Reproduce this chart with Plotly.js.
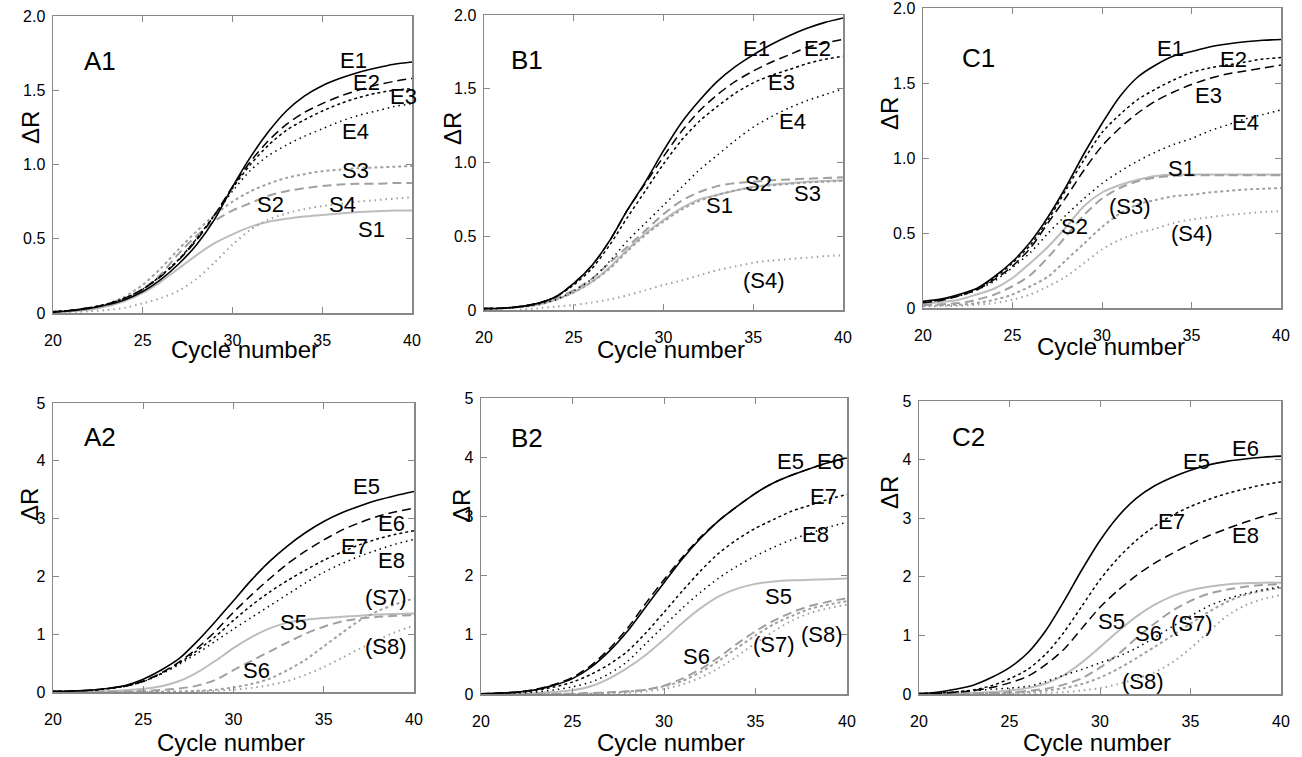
<!DOCTYPE html>
<html><head><meta charset="utf-8">
<script src="https://cdn.plot.ly/plotly-3.0.1.min.js"></script>
<style>html,body{margin:0;padding:0;background:#fff;}#chart{width:1302px;height:757px;}</style>
</head><body><div id="chart"></div>
<script>
// ---------- DATA ----------
const cycles = [20,21,22,23,24,25,26,27,28,29,30,31,32,33,34,35,36,37,38,39,40];
const xTickVals = [20,25,30,35,40];
const xTickText = ["20","25","30","35","40"];
const yTickVals1 = [0,0.5,1,1.5,2];
const yTickText1 = ["0","0.5","1.0","1.5","2.0"];
const yTickVals2 = [0,1,2,3,4,5];
const yTickText2 = ["0","1","2","3","4","5"];
const panelNames = ["A1","B1","C1","A2","B2","C2"];
const xTitle = "Cycle number";
const yTitle = "ΔR";

// Panel A1
const A1_E1 = [0.005,0.015,0.03,0.055,0.09,0.145,0.225,0.33,0.46,0.63,0.85,1.05,1.22,1.36,1.46,1.53,1.58,1.62,1.65,1.675,1.69];
const A1_E2 = [0.008,0.018,0.035,0.06,0.10,0.16,0.245,0.355,0.49,0.66,0.85,1.02,1.16,1.27,1.35,1.41,1.46,1.50,1.535,1.56,1.58];
const A1_E3 = [0.008,0.018,0.035,0.06,0.10,0.16,0.25,0.36,0.50,0.66,0.84,1.00,1.13,1.23,1.30,1.36,1.41,1.45,1.48,1.50,1.51];
const A1_E4 = [0.008,0.018,0.035,0.06,0.10,0.16,0.25,0.36,0.50,0.66,0.82,0.96,1.06,1.13,1.19,1.24,1.29,1.33,1.36,1.39,1.41];
const A1_S1 = [0.005,0.012,0.022,0.045,0.08,0.135,0.21,0.30,0.39,0.47,0.53,0.58,0.615,0.635,0.65,0.66,0.67,0.68,0.685,0.69,0.69];
const A1_S2 = [0.008,0.015,0.028,0.05,0.09,0.16,0.26,0.40,0.52,0.62,0.69,0.74,0.79,0.82,0.84,0.855,0.865,0.87,0.87,0.875,0.875];
const A1_S3 = [0.008,0.015,0.03,0.06,0.11,0.19,0.30,0.43,0.55,0.66,0.75,0.82,0.87,0.91,0.935,0.955,0.965,0.975,0.98,0.985,0.99];
const A1_S4 = [0.003,0.006,0.012,0.02,0.035,0.065,0.10,0.15,0.23,0.34,0.46,0.56,0.63,0.67,0.70,0.72,0.735,0.75,0.76,0.77,0.78];
// Panel B1
const B1_E1 = [0.01,0.012,0.023,0.045,0.09,0.18,0.30,0.47,0.68,0.87,1.08,1.27,1.42,1.55,1.65,1.73,1.80,1.86,1.91,1.95,1.98];
const B1_E2 = [0.01,0.012,0.023,0.045,0.09,0.18,0.30,0.47,0.68,0.86,1.04,1.21,1.35,1.46,1.55,1.62,1.68,1.73,1.78,1.81,1.835];
const B1_E3 = [0.01,0.012,0.023,0.045,0.09,0.17,0.28,0.44,0.63,0.81,0.99,1.15,1.28,1.38,1.47,1.54,1.59,1.63,1.67,1.70,1.72];
const B1_E4 = [0.005,0.01,0.02,0.04,0.07,0.13,0.21,0.33,0.47,0.59,0.71,0.83,0.95,1.05,1.15,1.24,1.31,1.37,1.42,1.46,1.50];
const B1_S1 = [0.008,0.012,0.02,0.035,0.07,0.12,0.19,0.29,0.41,0.52,0.61,0.69,0.75,0.78,0.81,0.835,0.85,0.86,0.87,0.875,0.88];
const B1_S2 = [0.008,0.012,0.023,0.04,0.08,0.135,0.21,0.32,0.43,0.54,0.65,0.74,0.80,0.84,0.86,0.87,0.88,0.885,0.89,0.895,0.90];
const B1_S3 = [0.008,0.012,0.02,0.035,0.07,0.12,0.19,0.28,0.40,0.51,0.60,0.68,0.74,0.78,0.81,0.83,0.845,0.855,0.865,0.87,0.875];
const B1_S4 = [null,null,0.002,0.011,0.023,0.034,0.05,0.072,0.10,0.135,0.17,0.20,0.235,0.27,0.295,0.32,0.335,0.345,0.355,0.365,0.37];
// Panel C1
const C1_E1 = [0.045,0.06,0.09,0.13,0.21,0.31,0.44,0.61,0.81,1.03,1.23,1.41,1.54,1.62,1.68,1.71,1.74,1.76,1.775,1.785,1.79];
const C1_E2 = [0.04,0.055,0.085,0.125,0.20,0.30,0.42,0.59,0.79,0.99,1.17,1.29,1.39,1.46,1.52,1.57,1.60,1.62,1.64,1.66,1.67];
const C1_E3 = [0.035,0.05,0.08,0.12,0.19,0.28,0.40,0.57,0.74,0.92,1.08,1.20,1.30,1.38,1.44,1.49,1.53,1.56,1.58,1.60,1.62];
const C1_E4 = [0.04,0.055,0.08,0.12,0.18,0.27,0.37,0.50,0.62,0.73,0.83,0.91,0.98,1.04,1.09,1.13,1.18,1.22,1.26,1.29,1.32];
const C1_S1 = [0.03,0.04,0.055,0.09,0.13,0.20,0.30,0.41,0.54,0.68,0.77,0.82,0.855,0.88,0.89,0.89,0.89,0.89,0.89,0.89,0.89];
const C1_S2 = [0.02,0.025,0.033,0.055,0.09,0.145,0.22,0.34,0.48,0.62,0.73,0.80,0.845,0.87,0.88,0.885,0.885,0.885,0.885,0.885,0.885];
const C1_S3 = [0.015,0.018,0.022,0.033,0.055,0.09,0.145,0.21,0.32,0.43,0.54,0.63,0.69,0.72,0.745,0.755,0.77,0.78,0.79,0.795,0.80];
const C1_S4 = [0.011,0.013,0.015,0.022,0.033,0.055,0.09,0.145,0.21,0.30,0.39,0.455,0.50,0.53,0.567,0.59,0.605,0.62,0.63,0.64,0.645];
// Panel A2
const A2_E5 = [0.01,0.017,0.03,0.06,0.11,0.22,0.38,0.58,0.88,1.22,1.58,1.94,2.26,2.53,2.76,2.95,3.10,3.22,3.32,3.40,3.47];
const A2_E6 = [0.01,0.017,0.03,0.06,0.10,0.19,0.33,0.52,0.76,1.05,1.38,1.68,1.96,2.22,2.44,2.63,2.80,2.93,3.04,3.12,3.18];
const A2_E7 = [0.01,0.017,0.03,0.055,0.10,0.18,0.32,0.50,0.72,0.96,1.24,1.50,1.73,1.93,2.11,2.28,2.42,2.55,2.65,2.73,2.79];
const A2_E8 = [0.01,0.017,0.03,0.055,0.10,0.18,0.31,0.48,0.67,0.88,1.09,1.29,1.49,1.69,1.89,2.07,2.22,2.35,2.46,2.56,2.64];
const A2_S5 = [0,0.004,0.008,0.015,0.03,0.055,0.10,0.19,0.34,0.54,0.76,0.95,1.10,1.20,1.25,1.28,1.30,1.32,1.34,1.35,1.36];
const A2_S6 = [0,0.002,0.004,0.007,0.012,0.02,0.035,0.06,0.11,0.21,0.38,0.54,0.70,0.86,1.01,1.13,1.22,1.27,1.30,1.32,1.33];
const A2_S7 = [0,0,0,0,0,0.003,0.005,0.01,0.02,0.04,0.08,0.14,0.23,0.38,0.56,0.79,1.02,1.24,1.40,1.52,1.62];
const A2_S8 = [0,0,0,0,0,0,0.003,0.006,0.01,0.02,0.04,0.07,0.12,0.19,0.30,0.43,0.59,0.75,0.90,1.04,1.15];
// Panel B2
const B2_E5 = [0.004,0.017,0.034,0.073,0.15,0.26,0.45,0.72,1.06,1.47,1.88,2.28,2.63,2.93,3.17,3.39,3.57,3.70,3.81,3.91,3.99];
const B2_E6 = [0.004,0.017,0.034,0.08,0.16,0.28,0.48,0.76,1.11,1.53,1.93,2.31,2.65,2.93,3.17,3.39,3.57,3.70,3.81,3.91,3.99];
const B2_E7 = [0.003,0.011,0.03,0.062,0.12,0.20,0.33,0.50,0.72,1.03,1.38,1.74,2.08,2.38,2.61,2.80,2.95,3.09,3.19,3.29,3.37];
const B2_E8 = [0.003,0.008,0.017,0.034,0.07,0.12,0.20,0.34,0.55,0.85,1.15,1.45,1.72,1.96,2.16,2.33,2.48,2.61,2.72,2.82,2.90];
const B2_S5 = [0.002,0.006,0.01,0.017,0.034,0.062,0.13,0.26,0.44,0.66,0.92,1.20,1.45,1.65,1.78,1.86,1.90,1.92,1.93,1.94,1.95];
const B2_S6 = [0,0,0,0,0,0.006,0.017,0.028,0.045,0.073,0.14,0.26,0.42,0.62,0.85,1.06,1.24,1.38,1.49,1.56,1.62];
const B2_S7 = [0,0,0,0,0,0,0.006,0.022,0.04,0.073,0.13,0.22,0.37,0.56,0.78,0.99,1.18,1.32,1.44,1.51,1.57];
const B2_S8 = [0,0,0,0,0,0,0,0.006,0.017,0.045,0.085,0.16,0.28,0.44,0.64,0.86,1.06,1.24,1.37,1.45,1.51];
// Panel C2
const C2_E5 = [0.006,0.03,0.08,0.15,0.28,0.45,0.70,1.08,1.58,2.12,2.62,3.03,3.34,3.55,3.70,3.82,3.91,3.97,4.01,4.04,4.06];
const C2_E7 = [0.005,0.015,0.035,0.07,0.14,0.26,0.42,0.68,1.05,1.50,1.95,2.32,2.62,2.86,3.05,3.20,3.32,3.42,3.50,3.57,3.62];
const C2_E8 = [0.004,0.011,0.028,0.06,0.11,0.19,0.30,0.50,0.76,1.12,1.48,1.77,2.02,2.23,2.40,2.56,2.70,2.82,2.93,3.03,3.11];
const C2_Edot = [0.01,0.02,0.035,0.055,0.08,0.10,0.13,0.21,0.32,0.42,0.53,0.64,0.78,0.96,1.15,1.33,1.50,1.62,1.71,1.78,1.83];
const C2_S5 = [0,0.004,0.01,0.02,0.035,0.06,0.10,0.18,0.32,0.54,0.80,1.07,1.32,1.52,1.67,1.77,1.83,1.87,1.89,1.90,1.90];
const C2_S6 = [0,0.002,0.005,0.01,0.016,0.028,0.05,0.09,0.16,0.27,0.45,0.68,0.95,1.20,1.42,1.59,1.71,1.78,1.83,1.86,1.875];
const C2_S7 = [0,0.002,0.004,0.007,0.011,0.02,0.035,0.06,0.10,0.17,0.28,0.43,0.61,0.80,1.00,1.20,1.40,1.57,1.69,1.76,1.81];
const C2_S8 = [0,0,0,0,0,0.005,0.01,0.02,0.03,0.06,0.10,0.17,0.26,0.37,0.54,0.78,1.06,1.33,1.51,1.62,1.69];

// curve labels: [panelIndex, text, x (cycle), y (ΔR)]
const curveLabels = [
  [0,"E1",36.74,1.70],[0,"E2",37.49,1.55],[0,"E3",39.53,1.46],[0,"E4",36.84,1.22],
  [0,"S3",36.84,0.96],[0,"S2",32.09,0.73],[0,"S4",36.15,0.73],[0,"S1",37.77,0.56],
  [1,"E1",35.2,1.77],[1,"E2",38.6,1.77],[1,"E3",36.6,1.54],[1,"E4",37.2,1.28],
  [1,"S2",35.3,0.86],[1,"S1",33.1,0.71],[1,"S3",38.0,0.79],[1,"(S4)",35.6,0.20],
  [2,"E1",33.8,1.73],[2,"E2",37.35,1.656],[2,"E3",35.95,1.42],[2,"E4",38.0,1.24],
  [2,"S1",34.46,0.93],[2,"(S3)",31.57,0.68],[2,"S2",28.49,0.544],[2,"(S4)",35.0,0.50],
  [3,"E5",37.36,3.55],[3,"E6",38.74,2.91],[3,"E7",36.71,2.51],[3,"E8",38.74,2.28],
  [3,"(S7)",38.47,1.64],[3,"S5",33.3,1.21],[3,"(S8)",38.47,0.78],[3,"S6",31.27,0.375],
  [4,"E5",36.9,3.93],[4,"E6",39.09,3.93],[4,"E7",38.72,3.34],[4,"E8",38.27,2.69],
  [4,"S5",36.27,1.65],[4,"(S7)",35.99,0.83],[4,"(S8)",38.63,1.00],[4,"S6",31.8,0.64],
  [5,"E5",35.35,3.96],[5,"E6",38.03,4.19],[5,"E7",33.97,2.94],[5,"E8",38.03,2.71],
  [5,"S5",30.65,1.23],[5,"S6",32.68,1.03],[5,"(S7)",35.08,1.20],[5,"(S8)",32.4,0.21]
];
// panel label positions (data coords)
const panelLabelPos = [[22.6,1.70],[22.4,1.695],[23.1,1.67],[22.59,4.41],[22.51,4.32],[22.73,4.39]];

// ---------- STYLES ----------
const W = 1302, H = 757;
const FONT = '"Liberation Sans", Arial, Helvetica, sans-serif';
const ST = {
  kSolid: {color:'#000', width:1.6, dash:'solid'},
  kLong:  {color:'#000', width:1.5, dash:'9px,5px'},
  kShort: {color:'#000', width:1.5, dash:'3px,3px'},
  kDot:   {color:'#000', width:1.5, dash:'1.5px,4px'},
  gSolid: {color:'#bdbdbd', width:2, dash:'solid'},
  gLong:  {color:'#a0a0a0', width:2, dash:'9px,5px'},
  gShort: {color:'#a0a0a0', width:2, dash:'3px,3px'},
  gDot:   {color:'#a0a0a0', width:2, dash:'1.5px,4px'}
};
// panel frames in pixels: [left, right, top, bottom]
const frames = [[53,412,16,313],[484,843,15,310],[923,1281,8,308],[53,414,403,692],[481,847,398,694],[919,1281,401,694]];

const traces = [];
function curve(p, name, ys, st){
  const s = p===0 ? '' : String(p+1);
  traces.push({x:cycles, y:ys, xaxis:'x'+s, yaxis:'y'+s, type:'scatter', mode:'lines',
    name:name, line:Object.assign({shape:'spline', smoothing:0.8}, st), hoverinfo:'skip', showlegend:false});
}
// gray (S) first so black on top
curve(0,'S1',A1_S1,ST.gSolid); curve(0,'S2',A1_S2,ST.gLong); curve(0,'S3',A1_S3,ST.gShort); curve(0,'S4',A1_S4,ST.gDot);
curve(0,'E1',A1_E1,ST.kSolid); curve(0,'E2',A1_E2,ST.kLong); curve(0,'E3',A1_E3,ST.kShort); curve(0,'E4',A1_E4,ST.kDot);
curve(1,'S1',B1_S1,ST.gSolid); curve(1,'S2',B1_S2,ST.gLong); curve(1,'S3',B1_S3,ST.gShort); curve(1,'S4',B1_S4,ST.gDot);
curve(1,'E1',B1_E1,ST.kSolid); curve(1,'E2',B1_E2,ST.kLong); curve(1,'E3',B1_E3,ST.kShort); curve(1,'E4',B1_E4,ST.kDot);
curve(2,'S1',C1_S1,ST.gSolid); curve(2,'S2',C1_S2,ST.gLong); curve(2,'S3',C1_S3,ST.gShort); curve(2,'S4',C1_S4,ST.gDot);
curve(2,'E1',C1_E1,ST.kSolid); curve(2,'E2',C1_E2,ST.kShort); curve(2,'E3',C1_E3,ST.kLong); curve(2,'E4',C1_E4,ST.kDot);
curve(3,'S5',A2_S5,ST.gSolid); curve(3,'S6',A2_S6,ST.gLong); curve(3,'S7',A2_S7,ST.gShort); curve(3,'S8',A2_S8,ST.gDot);
curve(3,'E5',A2_E5,ST.kSolid); curve(3,'E6',A2_E6,ST.kLong); curve(3,'E7',A2_E7,ST.kShort); curve(3,'E8',A2_E8,ST.kDot);
curve(4,'S5',B2_S5,ST.gSolid); curve(4,'S6',B2_S6,ST.gLong); curve(4,'S7',B2_S7,ST.gShort); curve(4,'S8',B2_S8,ST.gDot);
curve(4,'E5',B2_E5,ST.kSolid); curve(4,'E6',B2_E6,ST.kLong); curve(4,'E7',B2_E7,ST.kShort); curve(4,'E8',B2_E8,ST.kDot);
curve(5,'S5',C2_S5,ST.gSolid); curve(5,'S6',C2_S6,ST.gLong); curve(5,'S7',C2_S7,ST.gShort); curve(5,'S8',C2_S8,ST.gDot);
curve(5,'E5',C2_E5,ST.kSolid); curve(5,'E7',C2_E7,ST.kShort); curve(5,'E8',C2_E8,ST.kLong); curve(5,'E',C2_Edot,ST.kDot);

const layout = {
  width:W, height:H, margin:{l:0,r:0,t:0,b:0}, paper_bgcolor:'#fff', plot_bgcolor:'#fff',
  showlegend:false, font:{family:FONT, color:'#000', size:16}, annotations:[]
};
frames.forEach((f,i)=>{
  const s = i===0 ? '' : String(i+1);
  const top = i<3;
  layout['xaxis'+s] = {domain:[f[0]/W, f[1]/W], anchor:'y'+s, range:[20,40], tickvals:xTickVals, ticktext:xTickText,
    ticks:'inside', ticklen:6, tickwidth:1, tickcolor:'#888', showline:true, linecolor:'#888', linewidth:1.5, mirror:'ticks',
    showgrid:false, zeroline:false, tickfont:{size:16, family:FONT}, ticklabelstandoff:12, ticklabeloverflow:'allow', fixedrange:true};
  layout['yaxis'+s] = {domain:[1-f[3]/H, 1-f[2]/H], anchor:'x'+s, range: top?[0,2]:[0,5],
    tickvals: top?yTickVals1:yTickVals2, ticktext: top?yTickText1:yTickText2,
    ticks:'inside', ticklen:6, tickwidth:1, tickcolor:'#888', showline:true, linecolor:'#888', linewidth:1.5, mirror:'ticks',
    showgrid:false, zeroline:false, tickfont:{size:16, family:FONT}, ticklabelstandoff:3, ticklabeloverflow:'allow', fixedrange:true};
  layout.annotations.push({xref:'x'+s, yref:'y'+s, x:panelLabelPos[i][0], y:panelLabelPos[i][1], text:panelNames[i],
    showarrow:false, font:{size:26, family:FONT, color:'#000'}, xanchor:'center', yanchor:'middle'});
});
curveLabels.forEach(l=>{
  const s = l[0]===0 ? '' : String(l[0]+1);
  layout.annotations.push({xref:'x'+s, yref:'y'+s, x:l[2], y:l[3], text:l[1], showarrow:false,
    font:{size:22, family:FONT, color:'#000'}, xanchor:'center', yanchor:'middle'});
});
// axis titles placed in pixel positions
const yTitlePx = [[30,128],[452,128],[889,113],[29,505],[462,506],[889,492]];
const xTitlePx = [[245,350],[671,349],[1111,347],[231,742],[671,742],[1097,742]];
yTitlePx.forEach(p=>layout.annotations.push({xref:'paper', yref:'paper', x:p[0]/W, y:1-p[1]/H, text:yTitle, textangle:-90,
  showarrow:false, font:{size:24, family:FONT, color:'#000'}, xanchor:'center', yanchor:'middle'}));
xTitlePx.forEach(p=>layout.annotations.push({xref:'paper', yref:'paper', x:p[0]/W, y:1-p[1]/H, text:xTitle,
  showarrow:false, font:{size:24, family:FONT, color:'#000'}, xanchor:'center', yanchor:'middle'}));

Plotly.newPlot('chart', traces, layout, {staticPlot:true, displayModeBar:false});
</script></body></html>
